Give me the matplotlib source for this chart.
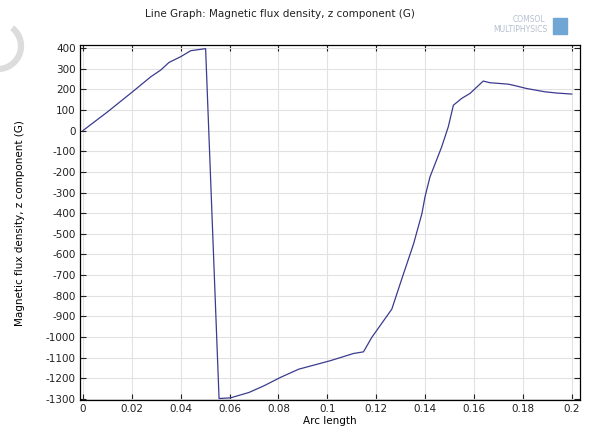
import matplotlib
matplotlib.use("Agg")
import matplotlib.pyplot as plt
from matplotlib.patches import Arc

plt.rcParams["axes.unicode_minus"] = False

# values
arc_length = [0.0, 0.0101, 0.0203, 0.0278, 0.0318, 0.0352, 0.040, 0.0441, 0.0502,
              0.0557, 0.0604, 0.0618, 0.0679, 0.074, 0.0808, 0.0883, 0.1012, 0.1107,
              0.1148, 0.1182, 0.1264, 0.1305, 0.1353, 0.1387, 0.140, 0.142, 0.1468,
              0.1495, 0.1516, 0.155, 0.1584, 0.1638, 0.1665, 0.174, 0.176, 0.1815,
              0.189, 0.1938, 0.200]
bz = [0, 91, 188, 261, 293, 330, 358, 387, 397,
      -1298, -1295, -1290, -1269, -1237, -1196, -1156, -1115, -1080,
      -1072, -1002, -865, -718, -549, -403, -320, -225, -79,
      18, 123, 156, 180, 240, 232, 225, 220, 204,
      188, 182, 177]

x_ticks = [0, 0.02, 0.04, 0.06, 0.08, 0.1, 0.12, 0.14, 0.16, 0.18, 0.2]
x_labels = ["0", "0.02", "0.04", "0.06", "0.08", "0.1", "0.12", "0.14", "0.16", "0.18", "0.2"]
y_ticks = list(range(400, -1301, -100))

fig = plt.figure(figsize=(5.9, 4.34), dpi=100)
ax = fig.add_axes([0.1356, 0.078, 0.847, 0.818])

ax.plot(arc_length, bz, color="#3b3b8f", linewidth=0.9)

ax.set_xlim(-0.0012, 0.2033)
ax.set_ylim(-1306, 414)
ax.set_xticks(x_ticks)
ax.set_xticklabels(x_labels)
ax.set_yticks(y_ticks)
ax.tick_params(direction="in", top=True, right=True, labelsize=7.5, length=4,
               width=0.8, colors="#222222", pad=3)
ax.grid(True, color="#e2e2e2", linewidth=0.8)
ax.set_axisbelow(True)
for s in ax.spines.values():
    s.set_linewidth(0.9)

ax.set_xlabel("Arc length", fontsize=7.5, labelpad=1)
ax.set_ylabel("Magnetic flux density, z component (G)", fontsize=7.5, labelpad=15)

fig.text(145 / 590, 1 - 14 / 434, "Line Graph: Magnetic flux density, z component (G)",
         fontsize=7.5, va="center", ha="left", color="#222222")

# COMSOL logo, faded
fig.text(545 / 590, 1 - 20 / 434, "COMSOL", fontsize=5.5, color="#b4c0cf",
         ha="right", va="center")
fig.text(548 / 590, 1 - 30 / 434, "MULTIPHYSICS", fontsize=5.5, color="#b4c0cf",
         ha="right", va="center")
fig.patches.append(plt.Rectangle((553 / 590, 1 - 34 / 434), 14 / 590, 16 / 434,
                                 transform=fig.transFigure, color="#6fa6d4"))

# light grey arc at top left
fig.add_artist(Arc((-2 / 590, 1 - 46 / 434), 46 / 590, 46 / 434, theta1=-100, theta2=60,
                   transform=fig.transFigure, color="#dcdcdc", linewidth=4.5))

fig.savefig("out.png", dpi=100)
